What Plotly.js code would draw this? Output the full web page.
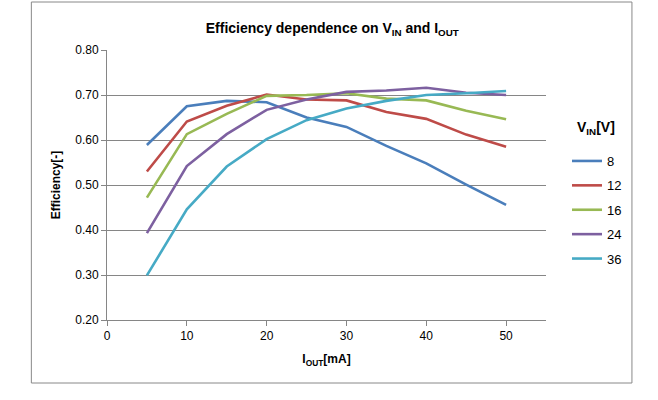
<!DOCTYPE html>
<html>
<head>
<meta charset="utf-8">
<script src="https://cdn.plot.ly/plotly-3.0.1.min.js"></script>
<style>html,body{margin:0;padding:0;background:#fff}#chart{width:658px;height:400px}</style>
</head>
<body>
<div id="chart"></div>
<script>
const iout = [5, 10, 15, 20, 25, 30, 35, 40, 45, 50];
const vinLabels = ['8', '12', '16', '24', '36'];
const eff8  = [0.589, 0.675, 0.687, 0.684, 0.650, 0.629, 0.587, 0.548, 0.501, 0.456];
const eff12 = [0.530, 0.641, 0.676, 0.701, 0.690, 0.688, 0.662, 0.647, 0.612, 0.585];
const eff16 = [0.472, 0.613, 0.658, 0.698, 0.700, 0.704, 0.692, 0.688, 0.665, 0.646];
const eff24 = [0.393, 0.542, 0.613, 0.667, 0.690, 0.707, 0.710, 0.716, 0.705, 0.700];
const eff36 = [0.299, 0.446, 0.541, 0.602, 0.644, 0.670, 0.687, 0.700, 0.704, 0.709];
const series = [eff8, eff12, eff16, eff24, eff36];
const colors = ['#4A7EBB', '#BE4B48', '#98B954', '#7D60A0', '#46AAC5'];
const font = '"Liberation Sans Narrow", "Liberation Sans", Arial, sans-serif';

const traces = series.map((s, i) => ({
  x: iout, y: s, type: 'scatter', mode: 'lines', name: vinLabels[i],
  legendgroup: 'g' + i,
  line: {color: colors[i], width: 2.6}
}));

const L = 106.7, R = 546, T = 50, B = 320;
const px = v => (v - L) / (R - L);
const py = v => (B - v) / (B - T);

const layout = {
  width: 658, height: 400,
  margin: {l: L, r: 658 - R, t: T, b: 400 - B, pad: 0},
  paper_bgcolor: '#fff', plot_bgcolor: '#fff',
  font: {family: font, size: 12, color: '#000'},
  title: {text: '<b>Efficiency dependence on V<sub>IN</sub> and I<sub>OUT</sub></b>',
          font: {family: font, size: 14, color: '#000'}, x: 0.505, xanchor: 'center', y: 0.93, yanchor: 'middle'},
  xaxis: {range: [0, 55], tick0: 0, dtick: 10, showgrid: false, zeroline: false,
          showline: true, linecolor: '#868686', linewidth: 1, ticks: 'outside', ticklen: 5,
          tickcolor: '#868686', tickfont: {size: 12, family: font},
          title: {text: '<b>I<sub>OUT</sub>[mA]</b>', font: {size: 12, family: font}, standoff: 12}},
  yaxis: {range: [0.2, 0.8], tick0: 0.2, dtick: 0.1, tickformat: '.2f', showgrid: true,
          gridcolor: '#868686', gridwidth: 1, zeroline: false,
          showline: true, linecolor: '#868686', linewidth: 1, ticks: 'outside', ticklen: 5,
          tickcolor: '#868686', tickfont: {size: 12, family: font},
          title: {text: '<b>Efficiency[-]</b>', font: {size: 12, family: font}, standoff: 12}},
  showlegend: true,
  legend: {x: px(567), y: py(146), xanchor: 'left', yanchor: 'top',
           tracegroupgap: 4.5, traceorder: 'grouped', itemwidth: 30,
           font: {size: 13, family: font}, bgcolor: 'rgba(0,0,0,0)'},
  annotations: [{xref: 'paper', yref: 'paper', x: px(596), y: py(128), xanchor: 'center', yanchor: 'middle',
                 showarrow: false, text: '<b>V<sub>IN</sub>[V]</b>', font: {size: 14, family: font, color: '#000'}}],
  shapes: [{type: 'rect', xref: 'paper', yref: 'paper',
            x0: px(31), x1: px(632), y0: py(383), y1: py(2),
            line: {color: '#888888', width: 1}, fillcolor: 'rgba(0,0,0,0)', layer: 'below'}]
};

Plotly.newPlot('chart', traces, layout, {displayModeBar: false, staticPlot: true});
</script>
</body>
</html>
